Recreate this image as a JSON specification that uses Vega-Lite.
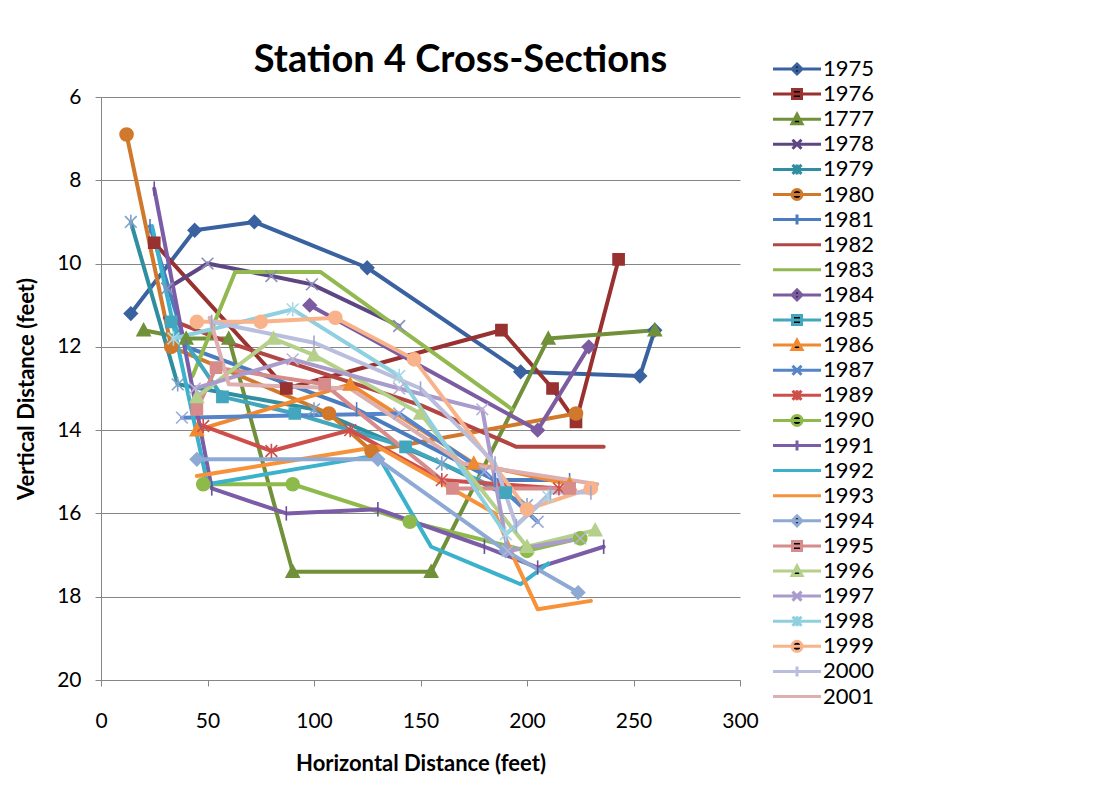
{
  "$schema": "https://vega.github.io/schema/vega-lite/v6.json",
  "width": 639,
  "height": 583,
  "autosize": {"type": "none"},
  "padding": {"left": 101, "top": 97, "right": 356, "bottom": 126},
  "background": "white",
  "title": {
    "text": "Station 4 Cross-Sections",
    "font": "Lato",
    "fontSize": 38,
    "fontWeight": "bold",
    "color": "#000000",
    "anchor": "middle",
    "frame": "group",
    "dx": 40,
    "dy": 42,
    "offset": 20
  },
  "config": {
    "view": {"stroke": null},
    "font": "Lato",
    "axis": {
      "domainColor": "#868686",
      "gridColor": "#868686",
      "tickColor": "#868686",
      "labelColor": "#000000",
      "titleColor": "#000000",
      "labelFont": "Lato",
      "titleFont": "Lato",
      "labelFontSize": 21,
      "titleFontSize": 22,
      "titleFontWeight": "bold",
      "labelFlush": false,
      "tickSize": 6
    },
    "legend": {
      "orient": "none",
      "legendX": 685,
      "legendY": -39,
      "padding": 0,
      "labelFont": "Lato",
      "labelFontSize": 22,
      "labelColor": "#000000",
      "labelOffset": 15,
      "symbolSize": 100,
      "symbolStrokeWidth": 3,
      "symbolOpacity": 1,
      "rowPadding": 3.1,
      "title": null
    }
  },
  "data": {
    "values": [
      {"s": "1975", "x": 14, "y": 11.2}, {"s": "1975", "x": 44, "y": 9.2}, {"s": "1975", "x": 72, "y": 9.0}, {"s": "1975", "x": 125, "y": 10.1}, {"s": "1975", "x": 197, "y": 12.6}, {"s": "1975", "x": 253, "y": 12.7}, {"s": "1975", "x": 260, "y": 11.6},
      {"s": "1976", "x": 25, "y": 9.5}, {"s": "1976", "x": 87, "y": 13.0}, {"s": "1976", "x": 188, "y": 11.6}, {"s": "1976", "x": 212, "y": 13.0}, {"s": "1976", "x": 223, "y": 13.8}, {"s": "1976", "x": 243, "y": 9.9},
      {"s": "1777", "x": 20, "y": 11.6}, {"s": "1777", "x": 40, "y": 11.8}, {"s": "1777", "x": 60, "y": 11.8}, {"s": "1777", "x": 90, "y": 17.4}, {"s": "1777", "x": 155, "y": 17.4}, {"s": "1777", "x": 210, "y": 11.8}, {"s": "1777", "x": 260, "y": 11.6},
      {"s": "1978", "x": 31, "y": 10.6}, {"s": "1978", "x": 50, "y": 10.0}, {"s": "1978", "x": 80, "y": 10.3}, {"s": "1978", "x": 99, "y": 10.5}, {"s": "1978", "x": 140, "y": 11.5},
      {"s": "1979", "x": 14, "y": 9.0}, {"s": "1979", "x": 36, "y": 12.9}, {"s": "1979", "x": 100, "y": 13.5}, {"s": "1979", "x": 160, "y": 14.8}, {"s": "1979", "x": 200, "y": 15.8},
      {"s": "1980", "x": 12, "y": 6.9}, {"s": "1980", "x": 33, "y": 12.0}, {"s": "1980", "x": 107, "y": 13.6}, {"s": "1980", "x": 127, "y": 14.5}, {"s": "1980", "x": 223, "y": 13.6},
      {"s": "1981", "x": 23, "y": 9.1}, {"s": "1981", "x": 40, "y": 12.0}, {"s": "1981", "x": 120, "y": 13.5}, {"s": "1981", "x": 185, "y": 15.2}, {"s": "1981", "x": 220, "y": 15.2},
      {"s": "1982", "x": 30, "y": 11.3}, {"s": "1982", "x": 60, "y": 11.9}, {"s": "1982", "x": 150, "y": 13.4}, {"s": "1982", "x": 195, "y": 14.4}, {"s": "1982", "x": 236, "y": 14.4},
      {"s": "1983", "x": 43, "y": 12.7}, {"s": "1983", "x": 63, "y": 10.2}, {"s": "1983", "x": 103, "y": 10.2}, {"s": "1983", "x": 193, "y": 13.5},
      {"s": "1984", "x": 98, "y": 11.0}, {"s": "1984", "x": 205, "y": 14.0}, {"s": "1984", "x": 229, "y": 12.0},
      {"s": "1985", "x": 33, "y": 11.4}, {"s": "1985", "x": 57, "y": 13.2}, {"s": "1985", "x": 91, "y": 13.6}, {"s": "1985", "x": 143, "y": 14.4}, {"s": "1985", "x": 190, "y": 15.5},
      {"s": "1986", "x": 45, "y": 14.0}, {"s": "1986", "x": 117, "y": 12.9}, {"s": "1986", "x": 175, "y": 14.8}, {"s": "1986", "x": 220, "y": 15.3},
      {"s": "1987", "x": 38, "y": 13.7}, {"s": "1987", "x": 140, "y": 13.6}, {"s": "1987", "x": 180, "y": 15.0}, {"s": "1987", "x": 205, "y": 16.2},
      {"s": "1989", "x": 48, "y": 13.9}, {"s": "1989", "x": 80, "y": 14.5}, {"s": "1989", "x": 117, "y": 14.0}, {"s": "1989", "x": 160, "y": 15.2}, {"s": "1989", "x": 215, "y": 15.4},
      {"s": "1990", "x": 48, "y": 15.3}, {"s": "1990", "x": 90, "y": 15.3}, {"s": "1990", "x": 145, "y": 16.2}, {"s": "1990", "x": 200, "y": 16.9}, {"s": "1990", "x": 225, "y": 16.6},
      {"s": "1991", "x": 25, "y": 8.2}, {"s": "1991", "x": 52, "y": 15.4}, {"s": "1991", "x": 87, "y": 16.0}, {"s": "1991", "x": 130, "y": 15.9}, {"s": "1991", "x": 180, "y": 16.8}, {"s": "1991", "x": 205, "y": 17.3}, {"s": "1991", "x": 236, "y": 16.8},
      {"s": "1992", "x": 24, "y": 9.1}, {"s": "1992", "x": 50, "y": 15.3}, {"s": "1992", "x": 130, "y": 14.6}, {"s": "1992", "x": 155, "y": 16.8}, {"s": "1992", "x": 197, "y": 17.7}, {"s": "1992", "x": 210, "y": 17.2},
      {"s": "1993", "x": 45, "y": 15.1}, {"s": "1993", "x": 130, "y": 14.4}, {"s": "1993", "x": 185, "y": 16.0}, {"s": "1993", "x": 195, "y": 17.2}, {"s": "1993", "x": 205, "y": 18.3}, {"s": "1993", "x": 230, "y": 18.1},
      {"s": "1994", "x": 45, "y": 14.7}, {"s": "1994", "x": 130, "y": 14.7}, {"s": "1994", "x": 190, "y": 16.9}, {"s": "1994", "x": 224, "y": 17.9},
      {"s": "1995", "x": 45, "y": 13.5}, {"s": "1995", "x": 54, "y": 12.5}, {"s": "1995", "x": 105, "y": 12.9}, {"s": "1995", "x": 165, "y": 15.4}, {"s": "1995", "x": 220, "y": 15.4},
      {"s": "1996", "x": 45, "y": 13.2}, {"s": "1996", "x": 81, "y": 11.8}, {"s": "1996", "x": 100, "y": 12.2}, {"s": "1996", "x": 150, "y": 13.6}, {"s": "1996", "x": 200, "y": 16.8}, {"s": "1996", "x": 232, "y": 16.4},
      {"s": "1997", "x": 44, "y": 13.0}, {"s": "1997", "x": 90, "y": 12.3}, {"s": "1997", "x": 140, "y": 13.0}, {"s": "1997", "x": 179, "y": 13.5}, {"s": "1997", "x": 191, "y": 16.9}, {"s": "1997", "x": 225, "y": 16.6},
      {"s": "1998", "x": 34, "y": 11.8}, {"s": "1998", "x": 90, "y": 11.1}, {"s": "1998", "x": 140, "y": 12.7}, {"s": "1998", "x": 190, "y": 16.5}, {"s": "1998", "x": 210, "y": 15.6},
      {"s": "1999", "x": 45, "y": 11.4}, {"s": "1999", "x": 75, "y": 11.4}, {"s": "1999", "x": 110, "y": 11.3}, {"s": "1999", "x": 147, "y": 12.3}, {"s": "1999", "x": 200, "y": 15.9}, {"s": "1999", "x": 230, "y": 15.4},
      {"s": "2000", "x": 52, "y": 11.4}, {"s": "2000", "x": 100, "y": 11.9}, {"s": "2000", "x": 150, "y": 13.0}, {"s": "2000", "x": 185, "y": 14.8}, {"s": "2000", "x": 195, "y": 16.3}, {"s": "2000", "x": 211, "y": 15.5}, {"s": "2000", "x": 230, "y": 15.5},
      {"s": "2001", "x": 51, "y": 11.3}, {"s": "2001", "x": 60, "y": 12.9}, {"s": "2001", "x": 117, "y": 13.0}, {"s": "2001", "x": 170, "y": 14.8}, {"s": "2001", "x": 233, "y": 15.3}
    ]
  },
  "encoding": {
    "x": {
      "field": "x", "type": "quantitative",
      "scale": {"domain": [0, 300], "nice": false, "zero": false},
      "axis": {"title": "Horizontal Distance (feet)", "values": [0, 50, 100, 150, 200, 250, 300], "grid": false, "labelPadding": 24, "titlePadding": 22}
    },
    "y": {
      "field": "y", "type": "quantitative",
      "scale": {"domain": [6, 20], "nice": false, "zero": false, "reverse": true},
      "axis": {"title": "Vertical Distance (feet)", "values": [6, 8, 10, 12, 14, 16, 18, 20], "grid": true, "labelPadding": 14, "titlePadding": 18}
    }
  },
  "resolve": {"scale": {"shape": "independent", "stroke": "independent"}},
  "layer": [
    {
      "mark": {"type": "line", "strokeWidth": 4, "strokeJoin": "round", "strokeCap": "round"},
      "encoding": {
        "color": {
          "field": "s", "type": "nominal",
          "scale": {
            "domain": ["1975","1976","1777","1978","1979","1980","1981","1982","1983","1984","1985","1986","1987","1989","1990","1991","1992","1993","1994","1995","1996","1997","1998","1999","2000","2001"],
            "range": ["#3A62A0","#98312F","#71903A","#5E4683","#2F8EA0","#D0782C","#4A7DBF","#B24643","#92B850","#7C5CA0","#42A7BE","#F0892F","#5585C8","#CE4E4B","#8DBA4A","#7B5CA6","#3CB1CC","#F7923B","#8EA9D4","#D78B8B","#B5D08A","#A99BCB","#8ECFE0","#F9B38A","#B9BEDC","#DDAFAE"]
          },
          "legend": null
        }
      }
    },
    {
      "transform": [{"filter": "indexof(['1982','1983','1992','1993','2001'], datum.s) < 0"}],
      "mark": {"type": "point", "filled": true, "size": 170, "strokeWidth": 1.6, "opacity": 1},
      "encoding": {
        "color": {"field": "s", "type": "nominal", "legend": null},
        "shape": {
          "field": "s", "type": "nominal",
          "scale": {
            "domain": ["1975","1976","1777","1978","1979","1980","1981","1982","1983","1984","1985","1986","1987","1989","1990","1991","1992","1993","1994","1995","1996","1997","1998","1999","2000","2001"],
            "range": [
              "M0,-1L1,0L0,1L-1,0Z",
              "M-0.85,-0.85H0.85V0.85H-0.85Z",
              "M0,-1L1,0.85H-1Z",
              "M-0.9,-0.9L0.9,0.9M-0.9,0.9L0.9,-0.9",
              "M-0.9,-0.9L0.9,0.9M-0.9,0.9L0.9,-0.9M0,-1.1V1.1",
              "M-1,0A1,1 0 1,0 1,0A1,1 0 1,0 -1,0Z",
              "M0,-1.1V1.1",
              "M0,0",
              "M0,0",
              "M0,-1L1,0L0,1L-1,0Z",
              "M-0.85,-0.85H0.85V0.85H-0.85Z",
              "M0,-1L1,0.85H-1Z",
              "M-0.9,-0.9L0.9,0.9M-0.9,0.9L0.9,-0.9",
              "M-0.9,-0.9L0.9,0.9M-0.9,0.9L0.9,-0.9M0,-1.1V1.1",
              "M-1,0A1,1 0 1,0 1,0A1,1 0 1,0 -1,0Z",
              "M0,-1.1V1.1",
              "M0,0",
              "M0,0",
              "M0,-1L1,0L0,1L-1,0Z",
              "M-0.85,-0.85H0.85V0.85H-0.85Z",
              "M0,-1L1,0.85H-1Z",
              "M-0.9,-0.9L0.9,0.9M-0.9,0.9L0.9,-0.9",
              "M-0.9,-0.9L0.9,0.9M-0.9,0.9L0.9,-0.9M0,-1.1V1.1",
              "M-1,0A1,1 0 1,0 1,0A1,1 0 1,0 -1,0Z",
              "M0,-1.1V1.1",
              "M0,0"
            ]
          },
          "legend": null
        },
        "stroke": {
          "field": "s", "type": "nominal",
          "scale": {
            "domain": ["1975","1976","1777","1978","1979","1980","1981","1982","1983","1984","1985","1986","1987","1989","1990","1991","1992","1993","1994","1995","1996","1997","1998","1999","2000","2001"],
            "range": ["#3A62A0","#98312F","#71903A","#8C8FB8","#7FA3C8","#D0782C","#4A7DBF","#B24643","#92B850","#7C5CA0","#42A7BE","#F0892F","#9AAAD8","#CE4E4B","#8DBA4A","#6A4E96","#3CB1CC","#F7923B","#8EA9D4","#D78B8B","#B5D08A","#BDB2D6","#A8D8E6","#F9B38A","#9FA8D0","#DDAFAE"]
          },
          "legend": null
        }
      }
    },
    {
      "transform": [{"filter": "datum.x < -1000"}],
      "mark": {"type": "point", "filled": true, "size": 100, "strokeWidth": 3, "opacity": 1},
      "encoding": {
        "fill": {
          "field": "s", "type": "nominal",
          "scale": {
            "domain": ["1975","1976","1777","1978","1979","1980","1981","1982","1983","1984","1985","1986","1987","1989","1990","1991","1992","1993","1994","1995","1996","1997","1998","1999","2000","2001"],
            "range": ["#3A62A0","#98312F","#71903A","#5E4683","#2F8EA0","#D0782C","#4A7DBF","#B24643","#92B850","#7C5CA0","#42A7BE","#F0892F","#5585C8","#CE4E4B","#8DBA4A","#7B5CA6","#3CB1CC","#F7923B","#8EA9D4","#D78B8B","#B5D08A","#A99BCB","#8ECFE0","#F9B38A","#B9BEDC","#DDAFAE"]
          },
          "legend": {"title": null}
        },
        "stroke": {
          "field": "s", "type": "nominal",
          "scale": {
            "domain": ["1975","1976","1777","1978","1979","1980","1981","1982","1983","1984","1985","1986","1987","1989","1990","1991","1992","1993","1994","1995","1996","1997","1998","1999","2000","2001"],
            "range": ["#3A62A0","#98312F","#71903A","#5E4683","#2F8EA0","#D0782C","#4A7DBF","#B24643","#92B850","#7C5CA0","#42A7BE","#F0892F","#5585C8","#CE4E4B","#8DBA4A","#7B5CA6","#3CB1CC","#F7923B","#8EA9D4","#D78B8B","#B5D08A","#A99BCB","#8ECFE0","#F9B38A","#B9BEDC","#DDAFAE"]
          },
          "legend": {"title": null}
        },
        "shape": {
          "field": "s", "type": "nominal",
          "scale": {
            "domain": ["1975","1976","1777","1978","1979","1980","1981","1982","1983","1984","1985","1986","1987","1989","1990","1991","1992","1993","1994","1995","1996","1997","1998","1999","2000","2001"],
            "range": [
              "M-4.8,0H4.8M0,-1L1,0L0,1L-1,0Z",
              "M-4.8,0H4.8M-0.9,-0.9H0.9V0.9H-0.9Z",
              "M-4.8,0H4.8M0,-1L1,0.9H-1Z",
              "M-4.8,0H4.8M-0.9,-0.9L0.9,0.9M-0.9,0.9L0.9,-0.9",
              "M-4.8,0H4.8M-0.9,-0.9L0.9,0.9M-0.9,0.9L0.9,-0.9M0,-1V1",
              "M-4.8,0H4.8M-1,0A1,1 0 1,0 1,0A1,1 0 1,0 -1,0Z",
              "M-4.8,0H4.8M0,-1V1",
              "M-4.8,0H4.8",
              "M-4.8,0H4.8",
              "M-4.8,0H4.8M0,-1L1,0L0,1L-1,0Z",
              "M-4.8,0H4.8M-0.9,-0.9H0.9V0.9H-0.9Z",
              "M-4.8,0H4.8M0,-1L1,0.9H-1Z",
              "M-4.8,0H4.8M-0.9,-0.9L0.9,0.9M-0.9,0.9L0.9,-0.9",
              "M-4.8,0H4.8M-0.9,-0.9L0.9,0.9M-0.9,0.9L0.9,-0.9M0,-1V1",
              "M-4.8,0H4.8M-1,0A1,1 0 1,0 1,0A1,1 0 1,0 -1,0Z",
              "M-4.8,0H4.8M0,-1V1",
              "M-4.8,0H4.8",
              "M-4.8,0H4.8",
              "M-4.8,0H4.8M0,-1L1,0L0,1L-1,0Z",
              "M-4.8,0H4.8M-0.9,-0.9H0.9V0.9H-0.9Z",
              "M-4.8,0H4.8M0,-1L1,0.9H-1Z",
              "M-4.8,0H4.8M-0.9,-0.9L0.9,0.9M-0.9,0.9L0.9,-0.9",
              "M-4.8,0H4.8M-0.9,-0.9L0.9,0.9M-0.9,0.9L0.9,-0.9M0,-1V1",
              "M-4.8,0H4.8M-1,0A1,1 0 1,0 1,0A1,1 0 1,0 -1,0Z",
              "M-4.8,0H4.8M0,-1V1",
              "M-4.8,0H4.8"
            ]
          },
          "legend": {"title": null}
        }
      }
    }
  ]
}
